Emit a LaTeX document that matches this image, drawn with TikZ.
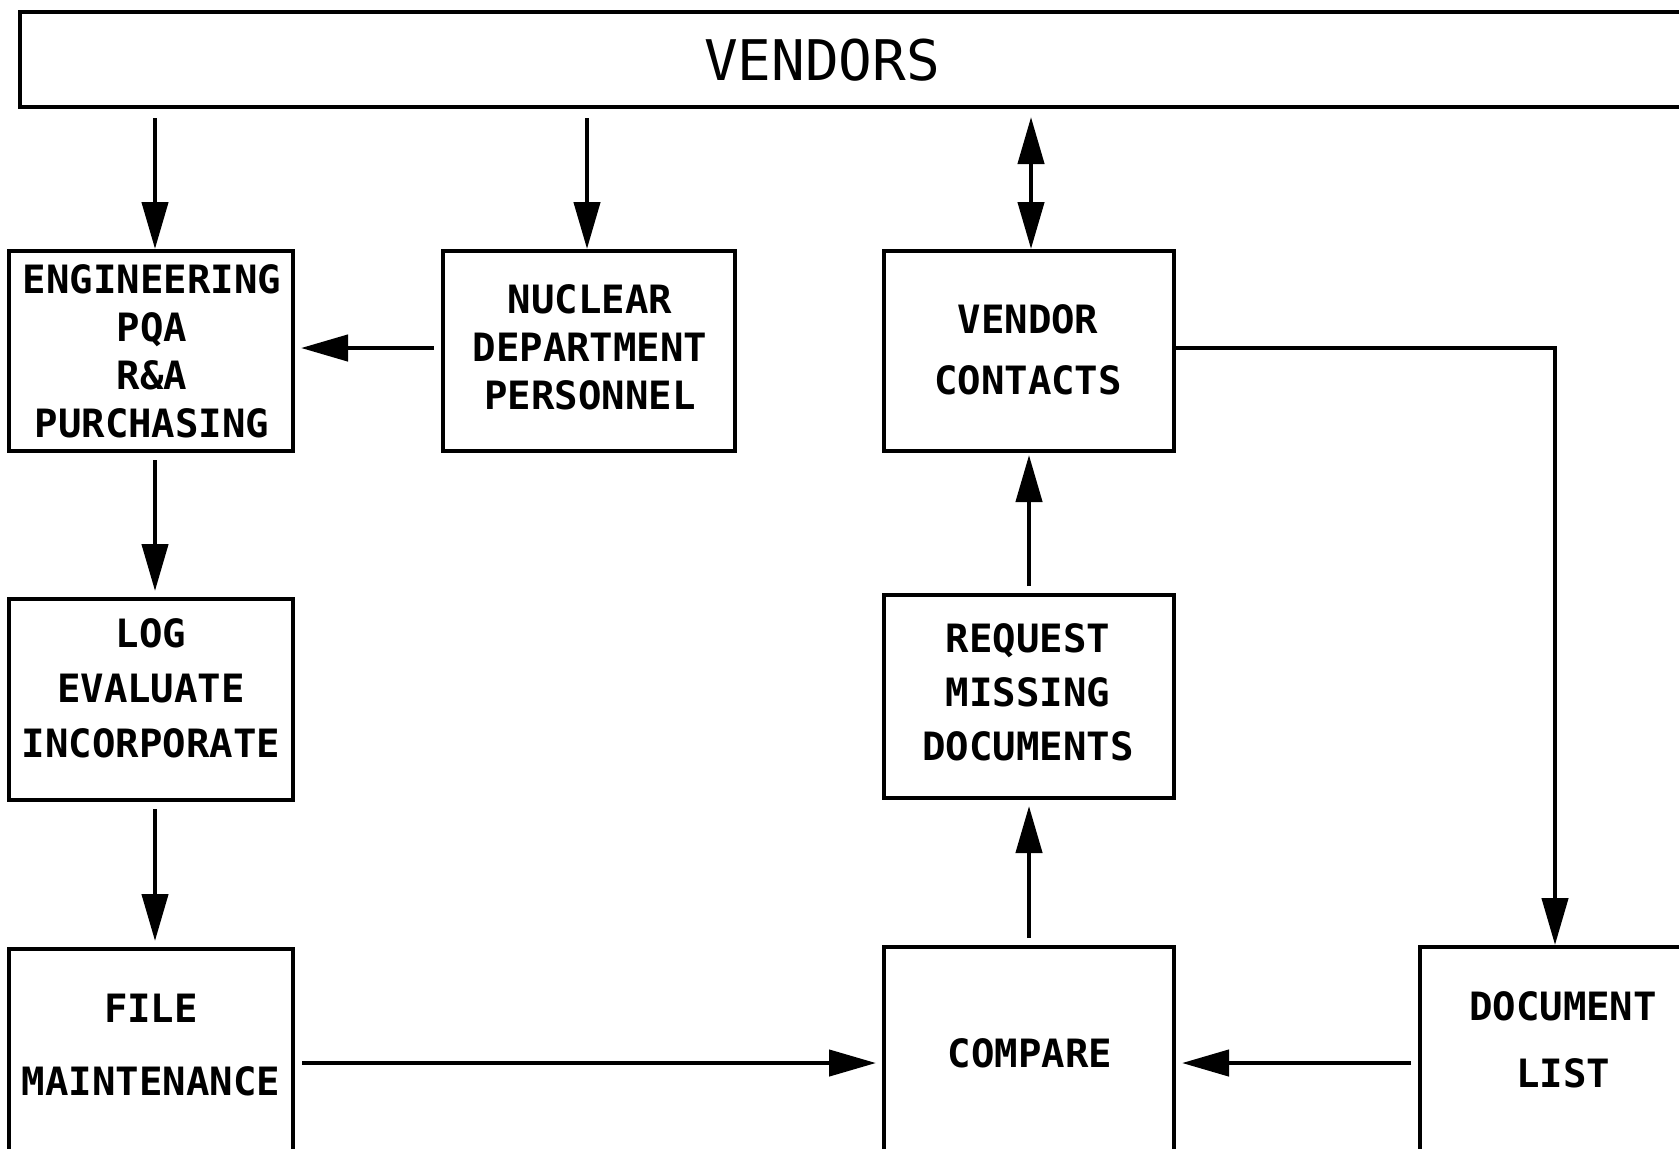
\documentclass[tikz,border=0pt]{standalone}
\usepackage{fontspec}
\newfontfamily\plotfont{DejaVu Sans Mono}
\usetikzlibrary{arrows.meta,fit,calc}
\begin{document}
\begin{tikzpicture}[x=0.5pt,y=-0.5pt,
  box/.style={draw, line width=2pt, inner sep=0pt},
  lbl/.style={align=center, inner sep=0pt, font=\plotfont\bfseries\fontsize{19.5}{#1}\selectfont},
  tip/.tip={Triangle[length=23.5pt,width=13pt]},
  arr/.style={line width=2.2pt, -tip, shorten <=3.5pt, shorten >=3pt}]
\useasboundingbox (0,0) rectangle (1679,1148);
\clip (0,0) rectangle (1679,1148);
\fill[white] (0,0) rectangle (1679,1148);
% boxes
\node[box, fit={(20,12)(1720,107)}] (vendors) {};
\node[box, fit={(9,251)(293,451)}] (eng) {};
\node[box, fit={(443,251)(735,451)}] (nuc) {};
\node[box, fit={(884,251)(1174,451)}] (vc) {};
\node[box, fit={(9,599)(293,800)}] (log) {};
\node[box, fit={(884,595)(1174,798)}] (req) {};
\node[box, fit={(9,949)(293,1177)}] (file) {};
\node[box, fit={(884,947)(1174,1179)}] (cmp) {};
\node[box, fit={(1420,947)(1720,1179)}] (doc) {};
% texts
\node[inner sep=0pt, font=\plotfont\fontsize{28}{32}\selectfont] (vendorsT) at (822,60) {VENDORS};
\node[lbl=24] (engT) at (152,351) {ENGINEERING\\PQA\\R\&A\\PURCHASING};
\node[lbl=24] (nucT) at (590,347) {NUCLEAR\\DEPARTMENT\\PERSONNEL};
\node[lbl=30.5] (vcT) at (1028,350) {VENDOR\\CONTACTS};
\node[lbl=27.5] (logT) at (151,688) {LOG\\EVALUATE\\INCORPORATE};
\node[lbl=27] (reqT) at (1028,692) {REQUEST\\MISSING\\DOCUMENTS};
\node[lbl=36.5] (fileT) at (151,1045) {FILE\\MAINTENANCE};
\node[lbl=24] (cmpT) at (1030,1053) {COMPARE};
\node[lbl=33.5] (docT) at (1563,1040) {DOCUMENT\\LIST};
% connectors
\draw[arr, shorten <=4.5pt, shorten >=0pt] ([xshift=2pt]eng.north |- vendors.south) -- ([xshift=2pt]eng.north);
\draw[arr, shorten <=4.5pt, shorten >=0pt] ([xshift=-1pt]nuc.north |- vendors.south) -- ([xshift=-1pt]nuc.north);
\draw[arr, tip-tip, shorten <=4pt, shorten >=0pt] ([xshift=1pt]vc.north |- vendors.south) -- ([xshift=1pt]vc.north);
\draw[arr] ([yshift=1.5pt]nuc.west) -- ([yshift=1.5pt]eng.east);
\draw[arr] ([xshift=2pt]eng.south) -- ([xshift=2pt]log.north);
\draw[arr] ([xshift=2pt]log.south) -- ([xshift=2pt]file.north);
\draw[arr] (file.east) -- (cmp.west);
\draw[arr] (doc.west) -- (cmp.east);
\draw[arr] (cmp.north) -- (req.south);
\draw[arr, shorten >=1pt] (req.north) -- (vc.south);
\draw[arr, shorten <=0pt, shorten >=0pt] ([yshift=1.5pt]vc.east) -| ([xshift=68.5pt]doc.north west);
\end{tikzpicture}
\end{document}
